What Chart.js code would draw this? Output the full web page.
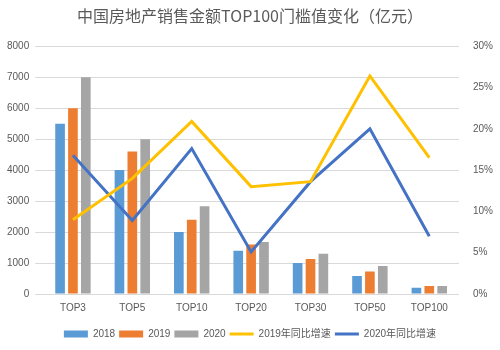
<!DOCTYPE html>
<html>
<head>
<meta charset="utf-8">
<script src="https://cdn.jsdelivr.net/npm/chart.js@4/dist/chart.umd.min.js"></script>
<style>
  html, body { margin: 0; padding: 0; background: #fff; }
  #wrap { width: 500px; height: 350px; }
</style>
</head>
<body>
<div id="wrap"><canvas id="chart" width="500" height="350"></canvas></div>
<script>
// categories and series
const categories = ['TOP3', 'TOP5', 'TOP10', 'TOP20', 'TOP30', 'TOP50', 'TOP100']
const sales2018 = [5500, 4000, 2000, 1400, 1000, 580, 200]
const sales2019 = [6000, 4600, 2400, 1600, 1130, 730, 260]
const sales2020 = [7000, 5000, 2830, 1680, 1300, 900, 260]
const growth2019 = [0.090, 0.140, 0.209, 0.130, 0.136, 0.264, 0.165]
const growth2020 = [0.168, 0.089, 0.176, 0.051, 0.136, 0.200, 0.070]

const colors = {
  blue: '#5B9BD5',
  orange: '#ED7D31',
  gray: '#A5A5A5',
  yellow: '#FFC000',
  darkBlue: '#4472C4',
  text: '#595959',
  grid: '#D9D9D9'
}

const latin = 'Arial, "Liberation Sans", "Noto Sans CJK SC", sans-serif'

function barSet(label, data, color) {
  return {
    type: 'bar',
    label: label,
    data: data,
    backgroundColor: color,
    borderWidth: 0,
    categoryPercentage: 0.65,
    barPercentage: 0.75,
    pointStyle: 'rect',
    yAxisID: 'y',
    order: 1
  }
}

function lineSet(label, data, color) {
  return {
    type: 'line',
    label: label,
    data: data,
    borderColor: color,
    backgroundColor: color,
    borderWidth: 3,
    pointRadius: 0,
    pointStyle: 'line',
    tension: 0,
    yAxisID: 'y1',
    order: 0
  }
}

new Chart(document.getElementById('chart'), {
  data: {
    labels: categories,
    datasets: [
      barSet('2018', sales2018, colors.blue),
      barSet('2019', sales2019, colors.orange),
      barSet('2020', sales2020, colors.gray),
      lineSet('2019年同比增速', growth2019, colors.yellow),
      lineSet('2020年同比增速', growth2020, colors.darkBlue)
    ]
  },
  options: {
    responsive: false,
    animation: false,
    layout: { padding: { left: 1, right: 1, top: 6, bottom: 1 } },
    plugins: {
      title: {
        display: true,
        text: '中国房地产销售金额TOP100门槛值变化（亿元）',
        color: colors.text,
        font: { family: '"Noto Sans CJK SC", sans-serif', size: 16, weight: 'normal' },
        padding: { top: 0, bottom: 21 }
      },
      legend: {
        position: 'bottom',
        labels: {
          color: colors.text,
          font: { family: latin, size: 10 },
          usePointStyle: true,
          pointStyleWidth: 24,
          boxHeight: 7,
          padding: 4,
          sort: (a, b) => a.datasetIndex - b.datasetIndex
        }
      },
      tooltip: { enabled: false }
    },
    scales: {
      x: {
        grid: { display: false },
        border: { color: colors.grid },
        ticks: { color: colors.text, font: { family: latin, size: 10 }, maxRotation: 0, padding: 0 },
        // leave room between the category labels and the legend
        afterFit: scale => { scale.height += 11 }
      },
      y: {
        position: 'left',
        min: 0,
        max: 8000,
        ticks: {
          stepSize: 1000,
          color: colors.text,
          font: { family: latin, size: 10 },
          padding: 6,
          callback: v => String(v)
        },
        grid: { color: colors.grid },
        border: { display: false }
      },
      y1: {
        position: 'right',
        min: 0,
        max: 0.3,
        ticks: {
          stepSize: 0.05,
          color: colors.text,
          font: { family: latin, size: 10 },
          padding: 6,
          callback: v => Math.round(v * 100) + '%'
        },
        grid: { display: false },
        border: { display: false }
      }
    }
  }
})
</script>
</body>
</html>
